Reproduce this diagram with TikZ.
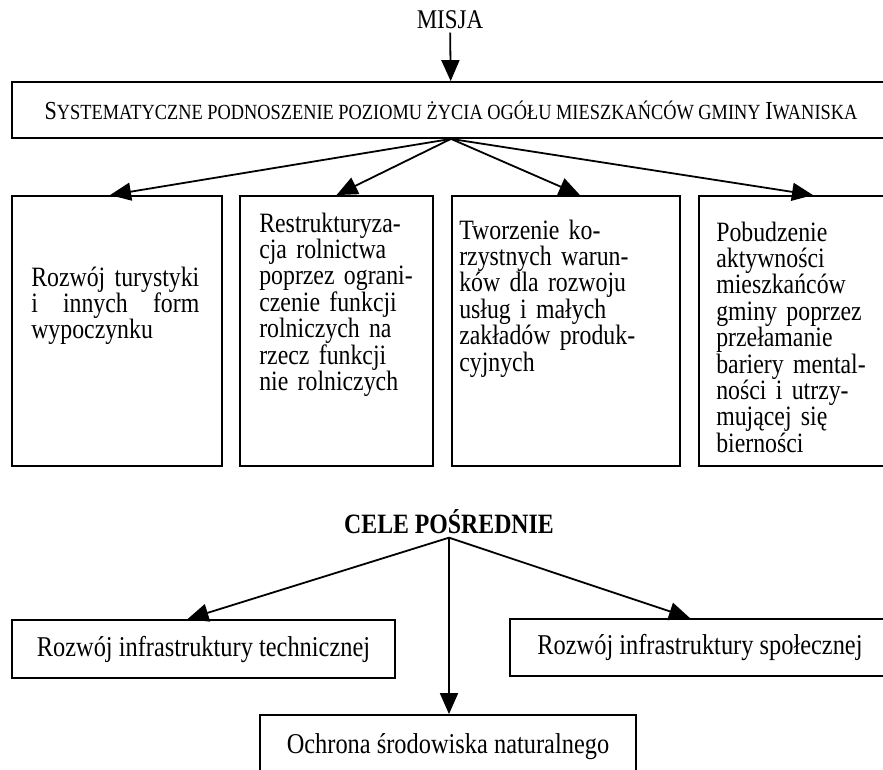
\documentclass[tikz,border=0pt]{standalone}
\usepackage{fontspec}
\setmainfont{Liberation Serif}[FakeStretch=0.85]
\usetikzlibrary{positioning, arrows.meta}
\newcommand{\duza}[1]{{\fontsize{26}{30}\selectfont #1}}

\begin{document}
\begin{tikzpicture}[x=1pt, y=-1pt, >={Triangle[length=21pt,width=18pt]},
  box/.style={draw, line width=1.8pt, inner sep=0pt},
  txt/.style={inner sep=0pt, align=left, font=\fontsize{28}{26.4}\selectfont},
  naglowek/.style={font=\fontsize{27}{30}\selectfont},
  strzalka/.style={->, line width=1.8pt}]
  \useasboundingbox (0,0) rectangle (883,770);
  \clip (0,0) rectangle (883,770);
  % misja
  \node [naglowek] (misja) at (450,20) {MISJA};
  \node [box, minimum width=878pt, minimum height=56pt,
         font=\fontsize{21.6}{26}\selectfont] (cel) at (451,110)
    {\duza{S}YSTEMATYCZNE PODNOSZENIE POZIOMU ŻYCIA OGÓŁU MIESZKAŃCÓW GMINY \duza{I}WANISKA};
  \draw [strzalka] (misja) -- (cel);
  % cele szczegolowe
  \node [box, minimum width=210pt, minimum height=270pt] (b1) at (117,331) {};
  \node [box, minimum width=193pt, minimum height=270pt] (b2) at (336.5,331) {};
  \node [box, minimum width=228pt, minimum height=270pt] (b3) at (566,331) {};
  \node [box, minimum width=228pt, minimum height=270pt] (b4) at (813,331) {};
  \node [txt, text width=168pt, below right=91pt and 20pt of b1.north west, anchor=base west] (t1)
    {Rozwój\hfill turystyki\\ i\hfill innych\hfill form\\ wypoczynku};
  \node [txt, text width=165pt, below right=37pt and 20pt of b2.north west, anchor=base west] (t2)
    {Restrukturyza-\\ cja rolnictwa\\ poprzez ograni-\\ czenie funkcji\\ rolniczych na\\ rzecz funkcji\\ nie rolniczych};
  \node [txt, text width=200pt, below right=44pt and 8pt of b3.north west, anchor=base west] (t3)
    {Tworzenie ko-\\ rzystnych warun-\\ ków dla rozwoju\\ usług i małych\\ zakładów produk-\\ cyjnych};
  \node [txt, text width=180pt, below right=46pt and 18pt of b4.north west, anchor=base west] (t4)
    {Pobudzenie\\ aktywności\\ mieszkańców\\ gminy poprzez\\ przełamanie\\ bariery mental-\\ ności i utrzy-\\ mującej się\\ bierności};
  \draw [strzalka] (cel.south) -- ([xshift=-7pt]b1.north);
  \draw [strzalka] (cel.south) -- (b2.north);
  \draw [strzalka] (cel.south) -- ([xshift=14pt]b3.north);
  \draw [strzalka] (cel.south) -- (b4.north);
  % cele posrednie
  \node [font=\fontsize{28}{30}\selectfont\bfseries] (posrednie) at (449,522) {CELE POŚREDNIE};
  \node [box, minimum width=383pt, minimum height=58pt, font=\fontsize{28.7}{30}\selectfont]
    (tech) at (203.5,649) {Rozwój infrastruktury technicznej};
  \node [box, minimum width=380pt, minimum height=57pt, font=\fontsize{28.7}{30}\selectfont]
    (spol) at (700,647.5) {Rozwój infrastruktury społecznej};
  \node [box, minimum width=376pt, minimum height=64pt, font=\fontsize{28.7}{30}\selectfont]
    (env) at (448,747) {Ochrona środowiska naturalnego};
  \draw [strzalka] (posrednie.south) -- ([xshift=-16pt]tech.north);
  \draw [strzalka] (posrednie.south) -- ([xshift=-10pt]spol.north);
  \draw [strzalka] (posrednie.south) -- (posrednie.south |- env.north);
\end{tikzpicture}
\end{document}
